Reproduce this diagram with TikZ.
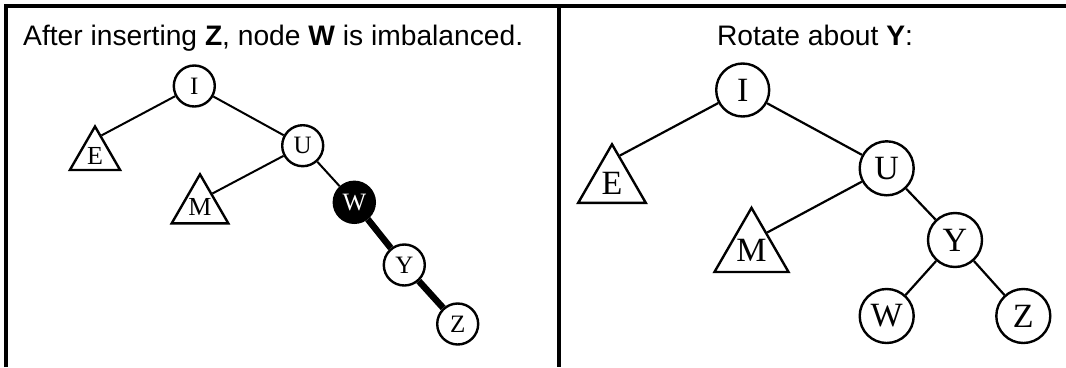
\documentclass[tikz,border=0pt]{standalone}
\usepackage{fontspec}
\setmainfont{Liberation Serif}
\newfontfamily\titlefont{Liberation Sans}
\usetikzlibrary{shapes.geometric,calc}

\tikzset{
  avlnode/.style={circle, draw, line width=2.4pt, inner sep=0pt, fill=white},
  avlsub/.style={regular polygon, regular polygon sides=3, draw, line width=2.4pt, inner sep=0pt},
  avledge/.style={line width=2pt},
  heavyedge/.style={line width=6.5pt},
  caption/.style={anchor=base, inner sep=0pt, font=\titlefont\fontsize{28.2}{32}\selectfont}
}

\begin{document}
\begin{tikzpicture}[x=1pt, y=-1pt]

  % --- 1. 枠 ---
  \useasboundingbox (0,0) rectangle (1066,367);
  \draw[line width=3.6pt, miter limit=10] (6,367) -- (6,6) -- (1066,6);
  \draw[line width=4pt] (559,6) -- (559,367);

  % --- 2. 見出し ---
  \node[caption, anchor=base west] (capL) at (23,45)
    {After inserting \textbf{Z}, node \textbf{W} is imbalanced.};
  \node[caption] (capR) at (815,45) {Rotate about \textbf{Y}:};

  % --- 3. 挿入後の木 (左) ---
  \begin{scope}[every node/.append style={font=\fontsize{25}{27}\selectfont}]
    \node[avlnode, minimum size=41pt] (lI) at (194.3,86) {I};
    \node[avlnode, minimum size=41pt] (lU) at (302.7,145.7) {U};
    \node[avlnode, minimum size=41pt, fill=black, text=white] (lW) at (354.3,202.3) {W};
    \node[avlnode, minimum size=41pt] (lY) at (404.3,265) {Y};
    \node[avlnode, minimum size=41pt] (lZ) at (457.7,324) {Z};
    \node[avlsub, minimum size=58pt, font=\fontsize{26}{28}\selectfont] (lE) at (95,155.5) {E};
    \node[avlsub, minimum size=58pt, font=\fontsize{26}{28}\selectfont] (lM) at (200,207) {M};
  \end{scope}

  \draw[avledge] (lI) -- ($(lE.corner 1)!0.24!(lE.corner 3)$);
  \draw[avledge] (lI) -- (lU);
  \draw[avledge] (lU) -- ($(lM.corner 1)!0.41!(lM.corner 3)$);
  \draw[avledge] (lU) -- (lW);
  \draw[heavyedge] (lW) -- (lY);
  \draw[heavyedge] (lY) -- (lZ);

  % --- 4. 回転後の木 (右) ---
  \begin{scope}[every node/.append style={font=\fontsize{34}{37}\selectfont}]
    \node[avlnode, minimum size=53pt] (rI) at (742.7,90) {I};
    \node[avlnode, minimum size=54pt] (rU) at (886.7,168.3) {U};
    \node[avlnode, minimum size=54pt] (rY) at (955,240) {Y};
    \node[avlnode, minimum size=54pt] (rW) at (886.7,316) {W};
    \node[avlnode, minimum size=54pt] (rZ) at (1023.3,316) {Z};
    \node[avlsub, minimum size=78pt] (rE) at (612,183.3) {E};
    \node[avlsub, minimum size=76pt] (rM) at (751.5,250.6) {M};
  \end{scope}

  \draw[avledge, line width=2.2pt] (rI) -- ($(rE.corner 1)!0.22!(rE.corner 3)$);
  \draw[avledge, line width=2.2pt] (rI) -- (rU);
  \draw[avledge, line width=2.2pt] (rU) -- ($(rM.corner 1)!0.40!(rM.corner 3)$);
  \draw[avledge, line width=2.2pt] (rU) -- (rY);
  \draw[avledge, line width=2.2pt] (rY) -- (rW);
  \draw[avledge, line width=2.2pt] (rY) -- (rZ);

\end{tikzpicture}
\end{document}
